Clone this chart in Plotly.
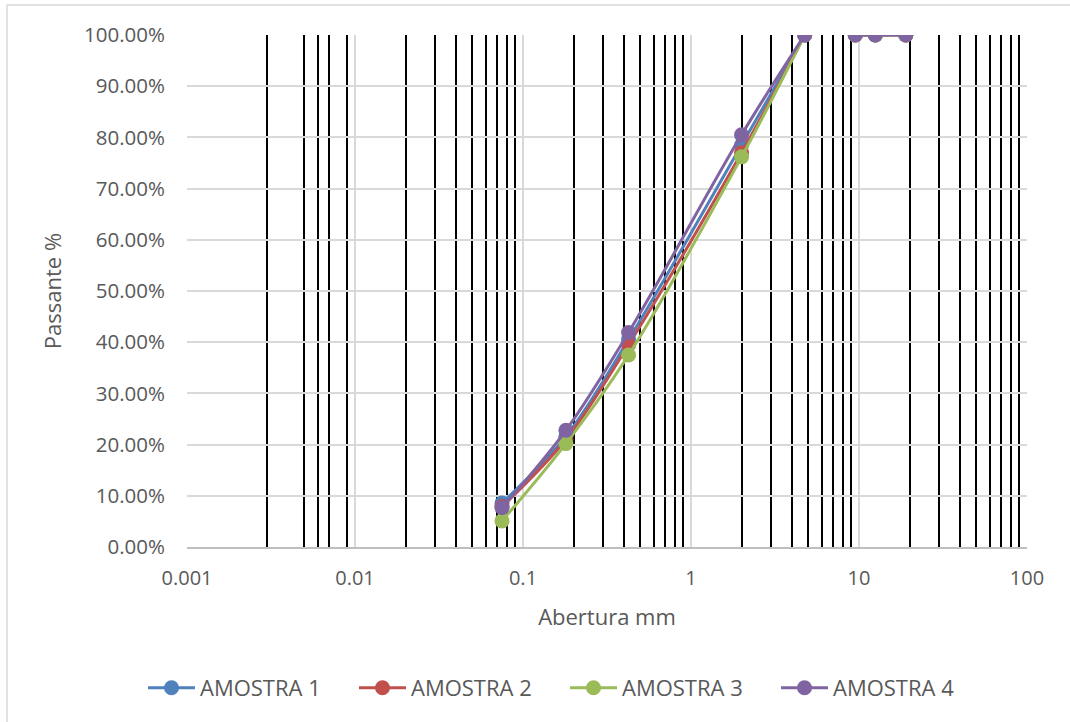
import plotly.graph_objects as go

# Sieve openings (mm); 6.3 has no data (gap in the lines)
abertura = [0.075, 0.18, 0.425, 2.0, 4.75, 6.3, 9.5, 12.5, 19.0]
amostra1 = [0.086, 0.216, 0.405, 0.785, 1.0, None, 1.0, 1.0, 1.0]
amostra2 = [0.079, 0.210, 0.395, 0.770, 1.0, None, 1.0, 1.0, 1.0]
amostra3 = [0.051, 0.202, 0.375, 0.762, 1.0, None, 1.0, 1.0, 1.0]
amostra4 = [0.077, 0.228, 0.419, 0.805, 1.0, None, 1.0, 1.0, 1.0]

series_names = ["AMOSTRA 1", "AMOSTRA 2", "AMOSTRA 3", "AMOSTRA 4"]
series_vals = [amostra1, amostra2, amostra3, amostra4]
colors = ["#4F81BD", "#C0504D", "#9BBB59", "#8064A2"]

major_ticks = [0.001, 0.01, 0.1, 1, 10, 100]
major_text = ["0.001", "0.01", "0.1", "1", "10", "100"]
black_lines = [0.003, 0.005, 0.006, 0.007, 0.009,
               0.02, 0.03, 0.04, 0.05, 0.06, 0.07, 0.08, 0.09,
               0.2, 0.3, 0.4, 0.5, 0.6, 0.7, 0.8, 0.9,
               2, 3, 4, 5, 6, 7, 8, 9,
               20, 30, 40, 50, 60, 70, 80, 90]
y_ticks = [0, 0.1, 0.2, 0.3, 0.4, 0.5, 0.6, 0.7, 0.8, 0.9, 1.0]

FONT = "Open Sans"
TXT = "#595959"

fig = go.Figure()
for name, vals, c in zip(series_names, series_vals, colors):
    fig.add_trace(go.Scatter(
        x=abertura, y=vals, name=name, mode="lines+markers",
        line=dict(color=c, width=3, shape="spline"),
        marker=dict(color=c, size=15),
        connectgaps=False,
    ))

W, H = 1070, 722
L, R, T, B = 187, 43, 35, 175
pw, ph = W - L - R, H - T - B

fig.update_layout(
    width=W, height=H, autosize=False,
    margin=dict(l=L, r=R, t=T, b=B, pad=0),
    paper_bgcolor="white", plot_bgcolor="white",
    font=dict(family=FONT, size=20, color=TXT),
    showlegend=True,
    legend=dict(orientation="h", x=(143 - L) / pw, xanchor="left",
                y=(T + ph - 688) / ph, yanchor="middle",
                font=dict(family=FONT, size=22, color=TXT),
                itemwidth=47,
                entrywidth=149, entrywidthmode="pixels",
                traceorder="normal", bgcolor="rgba(0,0,0,0)"),
    xaxis=dict(
        type="log", range=[-3, 2],
        tickmode="array", tickvals=major_ticks, ticktext=major_text,
        showgrid=True, gridcolor="#D9D9D9", gridwidth=1.5,
        minor=dict(tickmode="array", tickvals=black_lines, showgrid=True,
                   gridcolor="black", gridwidth=2, ticks=""),
        showline=True, linecolor="#BFBFBF", linewidth=1.5,
        ticks="", ticklabelstandoff=12,
        tickfont=dict(family=FONT, size=20, color=TXT),
        title=dict(text="Abertura mm", standoff=20,
                   font=dict(family=FONT, size=22, color=TXT)),
        zeroline=False,
    ),
    yaxis=dict(
        range=[0, 1], tickmode="array", tickvals=y_ticks, tickformat=".2%",
        showgrid=True, gridcolor="#D9D9D9", gridwidth=1.5,
        showline=False, ticks="", ticklabelstandoff=21,
        tickfont=dict(family=FONT, size=20.5, color=TXT),
        title=dict(text="Passante %", standoff=16,
                   font=dict(family=FONT, size=22, color=TXT)),
        zeroline=False,
    ),
)

# chart-area border (light gray)
fig.add_shape(type="rect", xref="paper", yref="paper",
              x0=(7 - L) / pw, x1=(1075 - L) / pw,
              y0=(T + ph - 730) / ph, y1=(T + ph - 5) / ph,
              line=dict(color="#D9D9D9", width=1.5), fillcolor="rgba(0,0,0,0)",
              layer="below")

fig.write_html("out.html")
